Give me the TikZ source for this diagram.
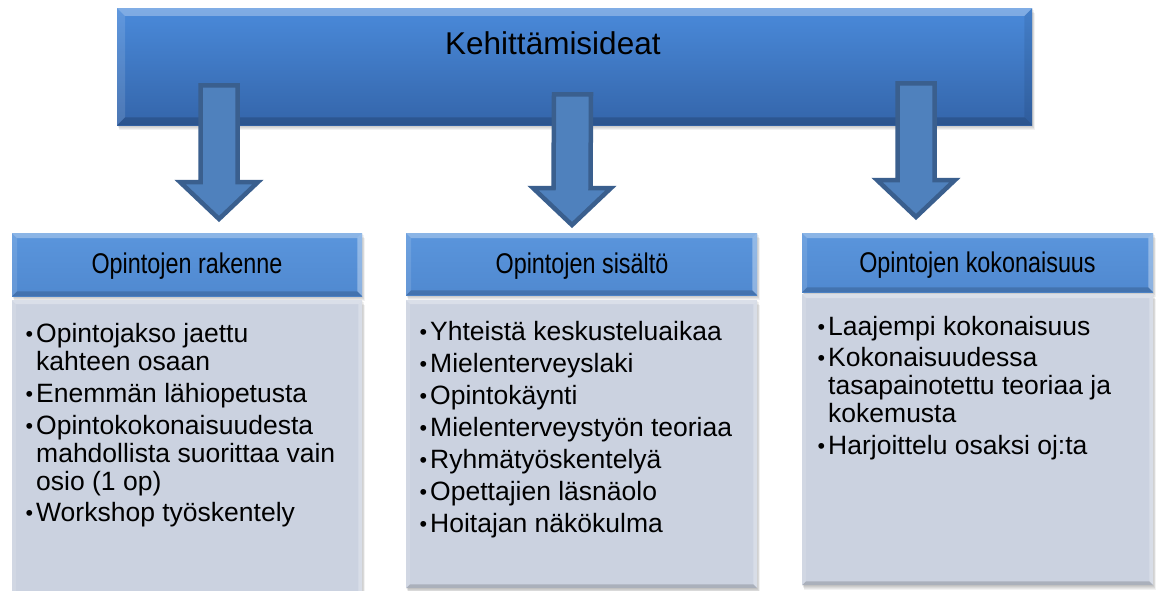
\documentclass[tikz,border=0pt]{standalone}
\usepackage{fontspec}
\setmainfont{Liberation Sans}
\newfontfamily\narrowfont[FakeStretch=0.82]{Liberation Sans}
\usetikzlibrary{calc}
\definecolor{barTop}{HTML}{4A8ADA}
\definecolor{barBot}{HTML}{3465AA}
\definecolor{hdrTop}{HTML}{5A95DC}
\definecolor{hdrBot}{HTML}{5089D0}
\definecolor{cntFill}{HTML}{CBD2E0}
\definecolor{arrFill}{HTML}{4F81BD}
\definecolor{arrLine}{HTML}{3A5F8E}
\newlength{\bulw}\setlength{\bulw}{11pt}
\newcommand{\itm}{\par\noindent\hangindent=\bulw\hangafter=1\makebox[\bulw][l]{\hspace{0.5pt}\raisebox{1pt}{\fontsize{21.5}{21.5}\selectfont •}}}
% #1 node, #2 bevel size, #3 opacity of right-side tint, #4 colour of right-side tint
\newcommand{\bevel}[4]{%
 \fill[white,opacity=0.30] (#1.north west) -- (#1.north east) -- ($(#1.north east)+(-#2,#2)$) -- ($(#1.north west)+(#2,#2)$) -- cycle;
 \fill[white,opacity=0.12] (#1.north west) -- ($(#1.north west)+(#2,#2)$) -- ($(#1.south west)+(#2,-#2)$) -- (#1.south west) -- cycle;
 \fill[black,opacity=0.16] (#1.south west) -- (#1.south east) -- ($(#1.south east)+(-#2,-#2)$) -- ($(#1.south west)+(#2,-#2)$) -- cycle;
 \fill[#4,opacity=#3] (#1.north east) -- (#1.south east) -- ($(#1.south east)+(-#2,-#2)$) -- ($(#1.north east)+(-#2,#2)$) -- cycle;}
\newcommand{\softshadow}[1]{%
 \foreach \k in {1,2,3,4}{\fill[black,opacity=0.05] ($(#1.north west)+(0.5*\k,1.2*\k)$) rectangle ($(#1.south east)+(0.6*\k,1.2*\k)$);}}
\newcommand{\blockarr}[2]{%
 \draw[blockarrow] ($(#1)+(-18.5,0)$) -- ($(#1)+(18.5,0)$) -- ($(#2)+(18.5,-37)$) -- ($(#2)+(39,-37)$) -- (#2) -- ($(#2)+(-39,-37)$) -- ($(#2)+(-18.5,-37)$) -- cycle;}
\begin{document}
\begin{tikzpicture}[x=1pt,y=-1pt,
  bar/.style={rectangle, inner sep=0pt, anchor=north west, top color=barTop, bottom color=barBot, draw=none},
  hdr/.style={rectangle, inner sep=0pt, anchor=north west, top color=hdrTop, bottom color=hdrBot, draw=none},
  cnt/.style={rectangle, inner sep=0pt, anchor=north west, fill=cntFill, draw=none},
  blockarrow/.style={fill=arrFill, draw=arrLine, line width=4.5pt, line join=miter},
  toptext/.style={font=\fontsize{31.5}{34}\selectfont, anchor=base west, inner sep=0pt},
  hdrtext/.style={font=\narrowfont\fontsize{28.5}{30}\selectfont, anchor=base, inner sep=0pt},
  listtext/.style={font=\fontsize{26.5}{28}\selectfont, anchor=north west, inner sep=0pt, text width=335pt, align=flush left},
]
\useasboundingbox (0,0) rectangle (1156,591);
\fill[white] (0,0) rectangle (1156,591);

% top bar
\coordinate (topnw) at (117,8);
\path (topnw) node[bar, minimum width=915pt, minimum height=117pt, opacity=0] (topghost) {};
\softshadow{topghost}
\node[bar, minimum width=915pt, minimum height=117pt] (top) at (topnw) {};
\bevel{top}{8}{0.08}{black}
\node[toptext] (toplabel) at (445,55) {Kehittämisideat};

% headers and contents
\node[hdr, minimum width=350pt, minimum height=63pt, opacity=0] (h1g) at (12,233) {};
\node[hdr, minimum width=351pt, minimum height=62pt, opacity=0] (h2g) at (406,233) {};
\node[hdr, minimum width=351pt, minimum height=59pt, opacity=0] (h3g) at (802,233) {};
\node[cnt, minimum width=350pt, minimum height=295pt, opacity=0] (c1g) at (12,300) {};
\node[cnt, minimum width=351pt, minimum height=288pt, opacity=0] (c2g) at (406,300) {};
\node[cnt, minimum width=351pt, minimum height=291pt, opacity=0] (c3g) at (802,294) {};
\softshadow{h1g}\softshadow{h2g}\softshadow{h3g}
\softshadow{c1g}\softshadow{c2g}\softshadow{c3g}

\node[cnt, minimum width=350pt, minimum height=295pt] (c1) at (12,300) {};
\node[cnt, minimum width=351pt, minimum height=288pt] (c2) at (406,300) {};
\node[cnt, minimum width=351pt, minimum height=291pt] (c3) at (802,294) {};
\bevel{c1}{4}{0.25}{white}\bevel{c2}{4}{0.25}{white}\bevel{c3}{4}{0.25}{white}

\node[hdr, minimum width=350pt, minimum height=63pt] (h1) at (12,233) {};
\node[hdr, minimum width=351pt, minimum height=62pt] (h2) at (406,233) {};
\node[hdr, minimum width=351pt, minimum height=59pt] (h3) at (802,233) {};
\bevel{h1}{5}{0.35}{white}\bevel{h2}{5}{0.35}{white}\bevel{h3}{5}{0.35}{white}

\node[hdrtext] (h1t) at (187,273) {Opintojen rakenne};
\node[hdrtext] (h2t) at (582,273) {Opintojen sisältö};
\node[hdrtext] (h3t) at (977.5,272.5) {Opintojen kokonaisuus};

\node[listtext] (l1) at (25,310.5) {\setlength{\parskip}{3.8pt}%
\itm\rule{0pt}{24pt}Opintojakso jaettu\newline kahteen osaan
\itm Enemmän lähiopetusta
\itm Opintokokonaisuudesta\newline mahdollista suorittaa vain\newline osio (1 op)
\itm Workshop työskentely};

\node[listtext] (l2) at (419,308.5) {\setlength{\parskip}{4pt}%
\itm\rule{0pt}{24pt}Yhteistä keskusteluaikaa
\itm Mielenterveyslaki
\itm Opintokäynti
\itm Mielenterveystyön teoriaa
\itm Ryhmätyöskentelyä
\itm Opettajien läsnäolo
\itm Hoitajan näkökulma};

\node[listtext] (l3) at (817,303) {\setlength{\parskip}{3.8pt}%
\itm\rule{0pt}{24pt}Laajempi kokonaisuus
\itm Kokonaisuudessa\newline tasapainotettu teoriaa ja\newline kokemusta
\itm Harjoittelu osaksi oj:ta};

% arrows
\coordinate (a1s) at (219,85.3);   \coordinate (a1e) at (219,219);
\coordinate (a2s) at (572.5,94.3); \coordinate (a2e) at (572,225);
\coordinate (a3s) at (916,83.3);   \coordinate (a3e) at (916,217);
\blockarr{a1s}{a1e}
\blockarr{a2s}{a2e}
\blockarr{a3s}{a3e}
\end{tikzpicture}
\end{document}
